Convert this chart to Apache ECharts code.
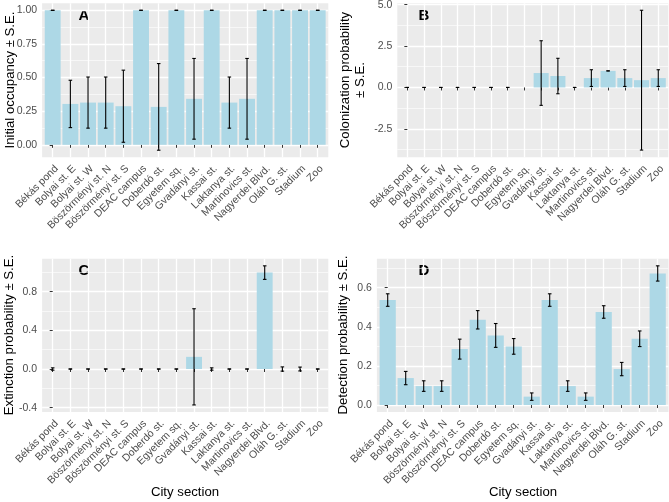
<!DOCTYPE html>
<html>
<head>
<meta charset="utf-8">
<script src="https://cdn.jsdelivr.net/npm/echarts@6/dist/echarts.min.js"></script>
<style>html,body{margin:0;padding:0;background:#fff}#main{width:669px;height:502px}</style>
</head>
<body>
<div id="main"></div>
<script>
var sections = ['Békás pond', 'Bolyai st. E', 'Bolyai st. W', 'Böszörményi st. N', 'Böszörményi st. S',
  'DEAC campus', 'Doberdó st.', 'Egyetem sq.', 'Gvadányi st.', 'Kassai st.', 'Laktanya st.',
  'Martinovics st.', 'Nagyerdei Blvd.', 'Oláh G. st.', 'Stadium', 'Zoo'];

// A - initial occupancy
var occVal = [1, 0.304, 0.314, 0.314, 0.287, 1, 0.282, 1, 0.342, 1, 0.314, 0.342, 1, 1, 1, 1];
var occSE  = [0, 0.176, 0.19, 0.19, 0.268, 0, 0.322, 0, 0.30, 0, 0.19, 0.30, 0, 0, 0, 0];
// B - colonization (Egyetem sq. missing)
var colVal = [0, 0, 0, 0, 0, 0, 0, null, 0.87, 0.69, 0, 0.565, 1, 0.565, 0.44, 0.565];
var colSE  = [0, 0, 0, 0, 0, 0, 0, null, 1.95, 1.07, 0, 0.505, 0, 0.505, 4.22, 0.505];
// C - extinction
var extVal = [0, 0, 0, 0, 0, 0, 0, 0, 0.126, 0, 0, 0, 0.998, 0, 0, 0];
var extSE  = [0.012, 0, 0, 0, 0, 0, 0, 0, 0.498, 0.012, 0, 0, 0.07, 0.022, 0.02, 0];
// D - detection
var detVal = [0.537, 0.138, 0.097, 0.097, 0.286, 0.436, 0.356, 0.300, 0.043, 0.537, 0.097, 0.043, 0.476, 0.184, 0.339, 0.673];
var detSE  = [0.032, 0.034, 0.027, 0.027, 0.051, 0.047, 0.061, 0.040, 0.019, 0.032, 0.027, 0.019, 0.032, 0.034, 0.040, 0.039];

var occTicks = [0, 0.25, 0.5, 0.75, 1];
var occMinor = [0.125, 0.375, 0.625, 0.875];
var colTicks = [-2.5, 0, 2.5, 5];
var colMinor = [-3.75, -1.25, 1.25, 3.75];
var extTicks = [-0.4, 0, 0.4, 0.8];
var extMinor = [-0.2, 0.2, 0.6, 1.0];
var detTicks = [0, 0.2, 0.4, 0.6];
var detMinor = [0.1, 0.3, 0.5, 0.7];

var FONT = 'Liberation Sans, Arial, sans-serif';
var idx = sections.map(function (s, i) { return i; });

var panels = [
  {left: 42.1, top: 3.3, width: 286.2, height: 153.9, min: -0.092, max: 1.052, ticks: occTicks, minor: occMinor, dig: 2, val: occVal, se: occSE},
  {left: 397.3, top: 3.3, width: 271, height: 153.9, min: -4.21, max: 5.08, ticks: colTicks, minor: colMinor, dig: 1, val: colVal, se: colSE},
  {left: 42.1, top: 258.8, width: 286.2, height: 153.2, min: -0.445, max: 1.141, ticks: extTicks, minor: extMinor, dig: 1, val: extVal, se: extSE},
  {left: 376.9, top: 258.8, width: 291.6, height: 153.2, min: -0.0356, max: 0.748, ticks: detTicks, minor: detMinor, dig: 1, val: detVal, se: detSE}
];

function renderBar(params, api) {
  var x = api.value(0), v = api.value(1);
  var p0 = api.coord([x - 0.45, 0]);
  var p1 = api.coord([x + 0.45, v]);
  return {
    type: 'rect',
    shape: {x: p0[0], y: Math.min(p0[1], p1[1]), width: p1[0] - p0[0], height: Math.abs(p1[1] - p0[1])},
    style: {fill: '#ADD8E6'}
  };
}

function renderErr(params, api) {
  var x = api.value(0);
  var lo = api.coord([x, api.value(1)]);
  var hi = api.coord([x, api.value(2)]);
  var l = api.coord([x - 0.1, 0])[0], r = api.coord([x + 0.1, 0])[0];
  var st = {stroke: '#000', lineWidth: 1.1};
  return {type: 'group', children: [
    {type: 'line', shape: {x1: lo[0], y1: lo[1], x2: hi[0], y2: hi[1]}, style: st},
    {type: 'line', shape: {x1: l, y1: lo[1], x2: r, y2: lo[1]}, style: st},
    {type: 'line', shape: {x1: l, y1: hi[1], x2: r, y2: hi[1]}, style: st}
  ]};
}

var grids = [], xAxes = [], yAxes = [], series = [];
panels.forEach(function (p, i) {
  grids.push({left: p.left, top: p.top, width: p.width, height: p.height, show: true,
    backgroundColor: '#EBEBEB', borderWidth: 0, containLabel: false, outerBoundsMode: 'none'});
  xAxes.push({
    gridIndex: i, type: 'value', min: -0.6, max: 15.6,
    axisLine: {show: false},
    axisTick: {show: true, customValues: idx, length: 3, lineStyle: {color: '#333333', width: 1}},
    axisLabel: {customValues: idx, rotate: 45, margin: 6, verticalAlign: 'top', align: 'right',
      color: '#4D4D4D', fontSize: 10.5, fontFamily: FONT,
      formatter: function (v) { return sections[Math.round(v)]; }},
    splitLine: {show: true, lineStyle: {color: '#ffffff', width: 1.3}}
  });
  yAxes.push({
    gridIndex: i, type: 'value', min: p.min, max: p.max, position: 'left',
    axisLine: {show: false},
    axisTick: {show: true, customValues: p.ticks, length: 3, lineStyle: {color: '#333333', width: 1}},
    axisLabel: {customValues: p.ticks, margin: 5, color: '#4D4D4D', fontSize: 10.5, fontFamily: FONT,
      formatter: (function (d) { return function (v) { return v.toFixed(d); }; })(p.dig)},
    splitLine: {show: true, lineStyle: {color: '#ffffff', width: 1.3}}
  });
  yAxes.push({
    gridIndex: i, type: 'value', min: p.min, max: p.max, position: 'left',
    axisLine: {show: false},
    axisTick: {show: false, customValues: p.minor},
    axisLabel: {show: false},
    splitLine: {show: true, lineStyle: {color: '#ffffff', width: 0.6}}
  });
  var bars = [], errs = [];
  p.val.forEach(function (v, k) {
    if (v === null) return;
    bars.push([k, v]);
    errs.push([k, v - p.se[k], v + p.se[k]]);
  });
  series.push({type: 'custom', xAxisIndex: i, yAxisIndex: 2 * i, data: bars, renderItem: renderBar, silent: true, z: 2});
  series.push({type: 'custom', xAxisIndex: i, yAxisIndex: 2 * i, data: errs, renderItem: renderErr, silent: true, z: 3});
});

function txt(x, y, s, size, rot, weight) {
  return {type: 'text', x: x, y: y, rotation: rot || 0, silent: true,
    style: {text: s, fontSize: size, fontFamily: FONT, fontWeight: weight || 'normal', fill: '#000',
      align: 'center', verticalAlign: 'middle', textAlign: 'center', textVerticalAlign: 'middle', lineHeight: 15}};
}

var myChart = echarts.init(document.getElementById('main'), null, {renderer: 'canvas'});
var option = {
  animation: false,
  grid: grids,
  xAxis: xAxes,
  yAxis: yAxes,
  series: series,
  graphic: [
    txt(10, 80, 'Initial occupancy ± S.E.', 13.2, Math.PI / 2),
    txt(353, 80, 'Colonization probability\n± S.E.', 13.2, Math.PI / 2),
    txt(9, 335, 'Extinction probability ± S.E.', 13.2, Math.PI / 2),
    txt(343, 335, 'Detection probability ± S.E.', 13.2, Math.PI / 2),
    txt(185, 492, 'City section', 13.2),
    txt(523, 492, 'City section', 13.2),
    txt(84, 16, 'A', 15, 0, 'bold'),
    txt(424, 16, 'B', 15, 0, 'bold'),
    txt(84, 271, 'C', 15, 0, 'bold'),
    txt(424, 271, 'D', 15, 0, 'bold')
  ]
};
myChart.setOption(option);
</script>
</body>
</html>
